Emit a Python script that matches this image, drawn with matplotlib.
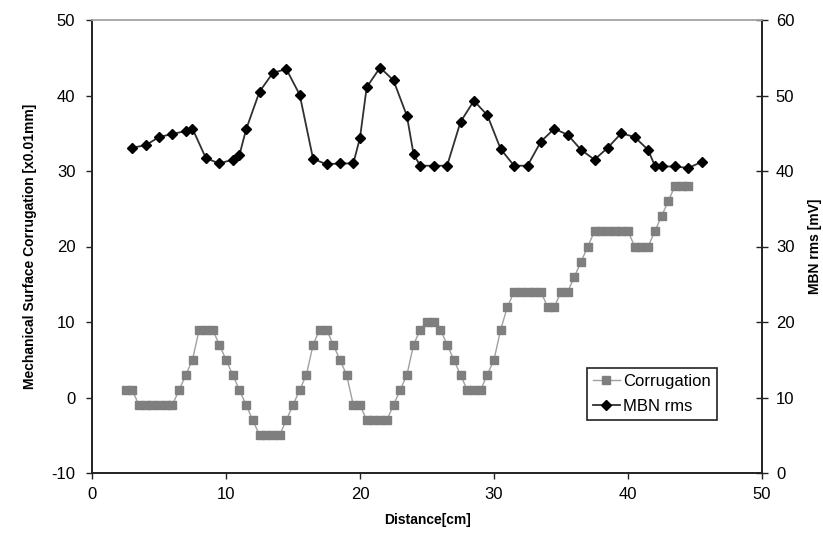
import matplotlib
matplotlib.use("Agg")
import matplotlib.pyplot as plt

plt.rcParams['font.family'] = ['Liberation Sans', 'DejaVu Sans']
plt.rcParams['axes.unicode_minus'] = False

# corrugation profile (left axis, x0.01 mm)
corr_x = [2.5, 3, 3.5, 4, 4.5, 5, 5.5, 6, 6.5, 7, 7.5, 8, 8.5, 9, 9.5, 10,
          10.5, 11, 11.5, 12, 12.5, 13, 13.5, 14, 14.5, 15, 15.5, 16, 16.5,
          17, 17.5, 18, 18.5, 19, 19.5, 20, 20.5, 21, 21.5, 22, 22.5, 23,
          23.5, 24, 24.5, 25, 25.5, 26, 26.5, 27, 27.5, 28, 28.5, 29, 29.5,
          30, 30.5, 31, 31.5, 32, 32.5, 33, 33.5, 34, 34.5, 35, 35.5, 36,
          36.5, 37, 37.5, 38, 38.5, 39, 39.5, 40, 40.5, 41, 41.5, 42, 42.5,
          43, 43.5, 44, 44.5]
corr_y = [1, 1, -1, -1, -1, -1, -1, -1, 1, 3, 5, 9, 9, 9, 7, 5,
          3, 1, -1, -3, -5, -5, -5, -5, -3, -1, 1, 3, 7,
          9, 9, 7, 5, 3, -1, -1, -3, -3, -3, -3, -1, 1,
          3, 7, 9, 10, 10, 9, 7, 5, 3, 1, 1, 1, 3,
          5, 9, 12, 14, 14, 14, 14, 14, 12, 12, 14, 14, 16,
          18, 20, 22, 22, 22, 22, 22, 22, 20, 20, 20, 22, 24,
          26, 28, 28, 28]

# MBN rms (right axis, mV)
mbn_x = [3, 4, 5, 6, 7, 7.5, 8.5, 9.5, 10.5, 11, 11.5, 12.5, 13.5, 14.5,
         15.5, 16.5, 17.5, 18.5, 19.5, 20, 20.5, 21.5, 22.5, 23.5, 24, 24.5,
         25.5, 26.5, 27.5, 28.5, 29.5, 30.5, 31.5, 32.5, 33.5, 34.5, 35.5,
         36.5, 37.5, 38.5, 39.5, 40.5, 41.5, 42, 42.5, 43.5, 44.5, 45.5]
mbn_y = [43.1, 43.4, 44.5, 44.9, 45.3, 45.6, 41.7, 41.0, 41.5, 42.1, 45.5,
         50.5, 53.0, 53.5, 50.1, 41.6, 40.9, 41.0, 41.0, 44.4, 51.1, 53.7,
         52.0, 47.3, 42.2, 40.7, 40.7, 40.7, 46.5, 49.3, 47.4, 42.9, 40.7,
         40.7, 43.9, 45.6, 44.8, 42.8, 41.5, 43.1, 45.0, 44.5, 42.8, 40.7,
         40.6, 40.6, 40.4, 41.2]

fig = plt.figure(figsize=(8.23, 5.43), dpi=100)
ax = fig.add_axes([92/823, 1-473/543, 670/823, 453/543])
ax2 = ax.twinx()

l1, = ax.plot(corr_x, corr_y, color='#a0a0a0', lw=1.0, marker='s',
              markersize=6, markerfacecolor='#7f7f7f', markeredgecolor='#7f7f7f',
              label='Corrugation', zorder=3)
l2, = ax2.plot(mbn_x, mbn_y, color='#303030', lw=1.3, marker='D',
               markersize=5, markerfacecolor='black', markeredgecolor='black',
               label='MBN rms', zorder=3)

ax.set_xlim(0, 50)
ax.set_ylim(-10, 50)
ax2.set_ylim(0, 60)
ax.set_xticks([0, 10, 20, 30, 40, 50])
ax.set_yticks([-10, 0, 10, 20, 30, 40, 50])
ax2.set_yticks([0, 10, 20, 30, 40, 50, 60])

for a in (ax, ax2):
    for s in ('left', 'right', 'bottom'):
        a.spines[s].set_color('#222222')
        a.spines[s].set_linewidth(1.2)
    a.spines['top'].set_color('#aaaaaa')
    a.spines['top'].set_linewidth(1.2)

ax.tick_params(axis='x', labelsize=12, length=4, width=1, direction='out',
               colors='#222222', labelcolor='black', pad=6)
ax.tick_params(axis='y', labelsize=12, length=4, width=1, direction='out',
               colors='#222222', labelcolor='black', pad=8)
ax2.tick_params(axis='y', labelsize=12, length=8, width=1, direction='inout',
                colors='#222222', labelcolor='black', pad=6)

ax.set_xlabel('Distance[cm]', fontsize=10, fontweight='bold', labelpad=8)
ax.set_ylabel('Mechanical Surface Corrugation [x0.01mm]', fontsize=10,
              fontweight='bold', labelpad=10)
ax2.set_ylabel('MBN rms [mV]', fontsize=10, fontweight='bold', labelpad=10)

leg = ax.legend(handles=[l1, l2], loc='lower left',
                bbox_to_anchor=(0.739, 0.117), fancybox=False, framealpha=1,
                edgecolor='#222222', fontsize=12, handlelength=1.6,
                handletextpad=0.2, borderpad=0.35, labelspacing=0.6,
                borderaxespad=0)
leg.get_frame().set_linewidth(1.2)
leg.set_zorder(5)

fig.savefig('out.png', dpi=100)
